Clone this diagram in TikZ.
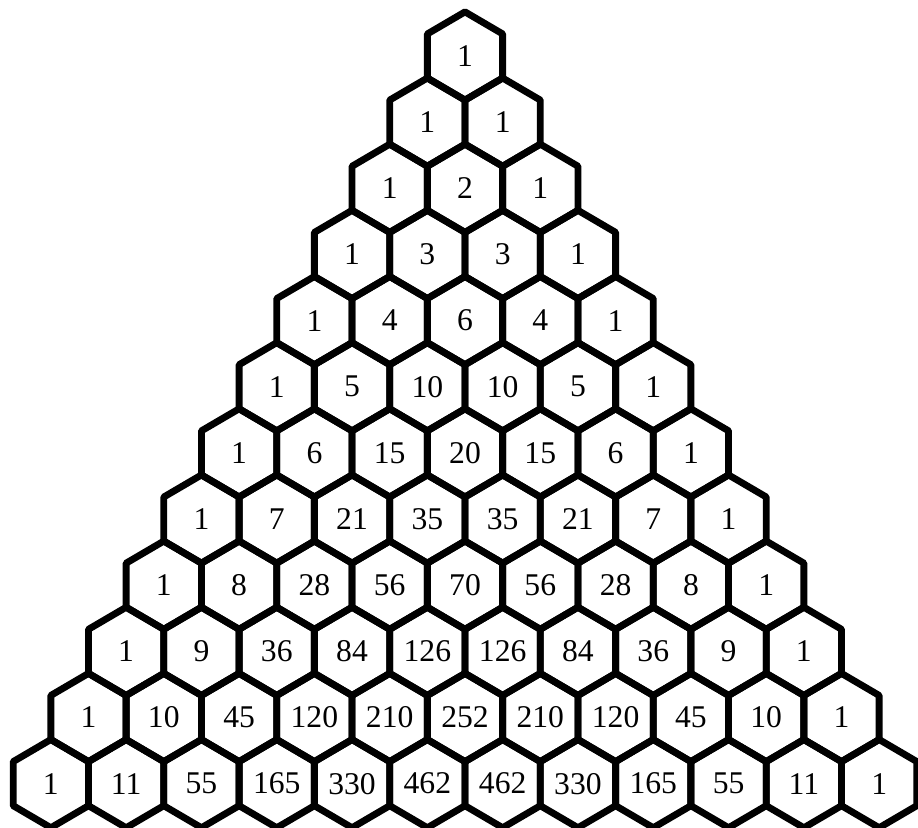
\documentclass[tikz,border=0pt]{standalone}
\usepackage{fontspec}
\setmainfont{Liberation Serif}
\tikzset{
  % Number inside a cell
  num/.style={inner sep=0pt, font=\fontsize{18}{18}\selectfont},
  % Hexagon outline
  cell/.style={line width=3.9pt, line join=round}
}

\begin{document}
\begin{tikzpicture}[x=0.02cm, y=0.02cm]
  \useasboundingbox (0,0) rectangle (918,827);
  % One row of the triangle per list entry
  \foreach \row [count=\n from 0] in {
      {1},
      {1,1},
      {1,2,1},
      {1,3,3,1},
      {1,4,6,4,1},
      {1,5,10,10,5,1},
      {1,6,15,20,15,6,1},
      {1,7,21,35,35,21,7,1},
      {1,8,28,56,70,56,28,8,1},
      {1,9,36,84,126,126,84,36,9,1},
      {1,10,45,120,210,252,210,120,45,10,1},
      {1,11,55,165,330,462,462,330,165,55,11,1}}{
    \foreach \v [count=\k from 0] in \row {
      \node[num] (c\n-\k) at ({465+(\k-\n/2)*75.3}, {771-\n*66.15}) {\v};
      \draw[cell] (c\n-\k.center) ++(0,44.1) -- ++(37.65,-22.05) -- ++(0,-44.1)
        -- ++(-37.65,-22.05) -- ++(-37.65,22.05) -- ++(0,44.1) -- cycle;
    }
  }
\end{tikzpicture}
\end{document}
